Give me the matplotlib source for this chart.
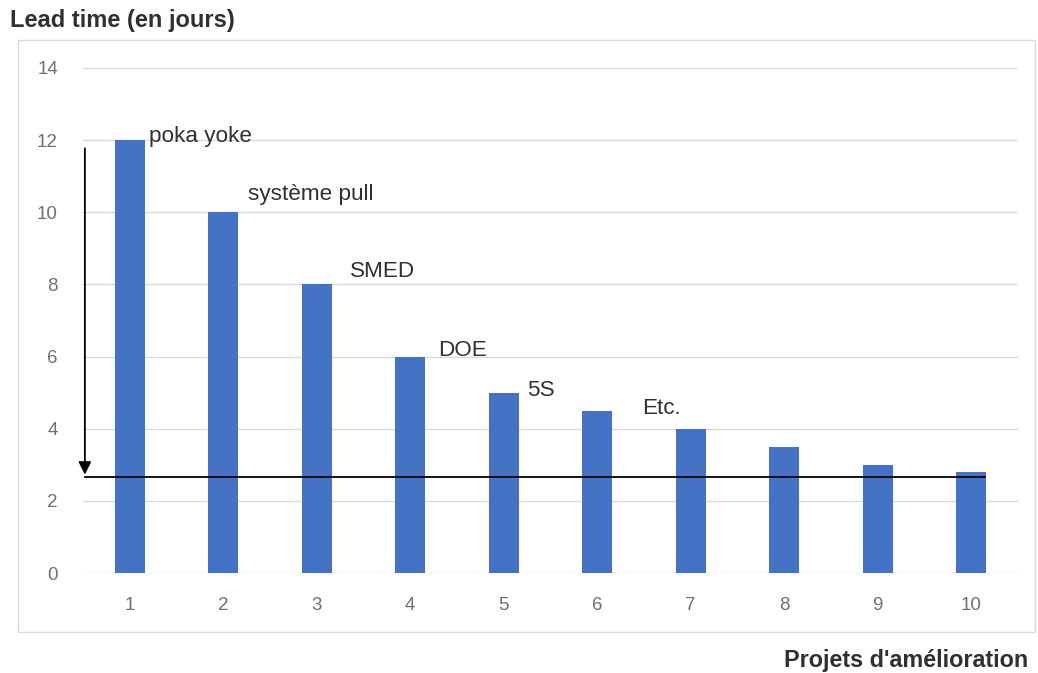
import matplotlib
matplotlib.use("Agg")
import matplotlib.pyplot as plt
from matplotlib.patches import Rectangle

plt.rcParams['font.family'] = ['Liberation Sans', 'DejaVu Sans']

projets = [1, 2, 3, 4, 5, 6, 7, 8, 9, 10]
lead_time = [12, 10, 8, 6, 5, 4.5, 4, 3.5, 3, 2.8]
cible = 2.65
outils = ["poka yoke", "système pull", "SMED", "DOE", "5S", "Etc."]

# label anchor points (x, y) in data units for each tool name
label_xy = [(1.21, 12.1), (2.26, 10.48), (3.36, 8.35), (4.3, 6.18), (5.25, 5.07), (6.48, 4.57)]

fig = plt.figure(figsize=(10.38, 6.73), dpi=100)
fig.patch.set_facecolor('white')

# chart frame
fig.patches.append(Rectangle((18 / 1038, 1 - 632 / 673), (1035 - 18) / 1038, (632 - 40) / 673,
                             transform=fig.transFigure, fill=False, edgecolor='#d9d9d9', lw=1.0))

ax = fig.add_axes([83 / 1038, 1 - 573 / 673, (1018 - 83) / 1038, (573 - 68) / 673])
ax.bar(projets, lead_time, width=0.32, color='#4472c4', zorder=2)
ax.set_xlim(0.5, 10.5)
ax.set_ylim(0, 14)
ax.set_yticks(range(0, 15, 2))
ax.set_xticks(projets)
ax.yaxis.grid(True, color='#d9d9d9', lw=1.0, zorder=0)
for s in ax.spines.values():
    s.set_visible(False)
ax.tick_params(axis='both', length=0, colors='#707070', labelsize=13.5)
ax.tick_params(axis='y', pad=18)
ax.tick_params(axis='x', pad=17)

# target line and arrow
ax.plot([0.52, 10.15], [cible, cible], color='black', lw=1.3, zorder=3, clip_on=False)
ax.annotate('', xy=(0.52, cible), xytext=(0.52, 11.85),
            arrowprops=dict(arrowstyle='-|>', color='black', lw=1.3, mutation_scale=19),
            annotation_clip=False, zorder=3)

for nom, (x, y) in zip(outils, label_xy):
    ax.text(x, y, nom, fontsize=16.2, color='#303030', va='center', ha='left', zorder=4)

fig.text(10 / 1038, 1 - 20 / 673, "Lead time (en jours)", fontsize=17, fontweight='bold',
         color='#303030', va='center', ha='left')
fig.text(1028 / 1038, 1 - 660 / 673, "Projets d'amélioration", fontsize=16.8, fontweight='bold',
         color='#303030', va='center', ha='right')

fig.savefig('out.png', dpi=100, facecolor='white')
